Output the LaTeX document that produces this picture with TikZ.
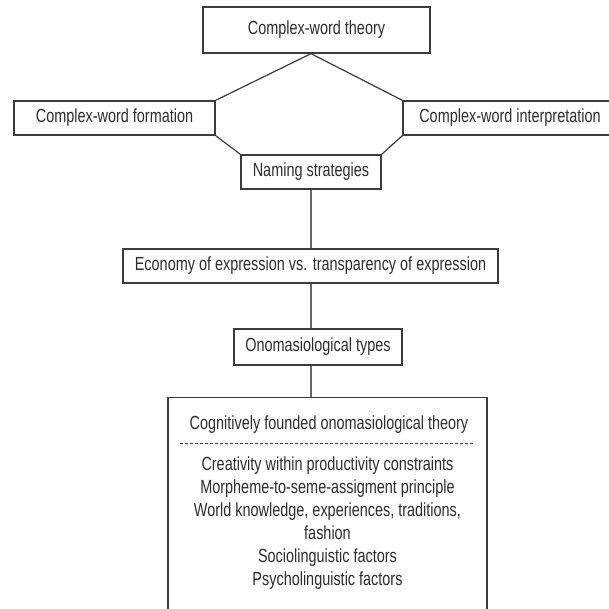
\documentclass[tikz,border=0pt]{standalone}
\usepackage{fontspec}
\setmainfont{Liberation Sans}[FakeStretch=0.76]
\usepackage{tikz}
\usetikzlibrary{positioning}
\definecolor{linegray}{RGB}{60,60,60}
\definecolor{textgray}{RGB}{45,45,45}

\tikzset{
  wordbox/.style={rectangle, draw=linegray, line width=1.3pt, fill=white, inner sep=0pt, text=textgray},
  link/.style={draw=linegray, line width=1.2pt},
}

\begin{document}
\begin{tikzpicture}[x=1pt, y=-1pt, font=\fontsize{19}{23}\selectfont]
\useasboundingbox (0,0) rectangle (608,609);
% Top level
\node[wordbox, minimum width=227, minimum height=46] (theory) at (316.5,30) {Complex-word theory};
\node[wordbox, minimum width=201, minimum height=34] (formation) at (114.5,118) {Complex-word formation};
\node[wordbox, minimum width=214, minimum height=34] (interp) at (510,118) {Complex-word interpretation};
\node[wordbox, minimum width=140, minimum height=34] (naming) at (311,172) {Naming strategies};

\draw[link] (formation.north east) -- (theory.south -| naming.south) -- (interp.north west);
\draw[link] (formation.south east) -- (naming.north west);
\draw[link] (interp.south west) -- (naming.north east);

% Middle chain
\node[wordbox, minimum width=375, minimum height=34] (economy) at (310.5,266) {Economy of expression vs. transparency of expression};
\node[wordbox, minimum width=168, minimum height=36] (types) at (318,347) {Onomasiological types};

\draw[link, draw=black!60] (naming.south) -- (naming.south |- economy.north);
\draw[link, draw=black!60] (economy.south -| naming.south) -- (naming.south |- types.north);

% Bottom box
\node[wordbox, minimum width=319, minimum height=232, anchor=north] (cog) at (327.5,397) {};
\draw[link, draw=black!60] (naming.south |- types.south) -- (naming.south |- cog.north);

\node[text=textgray] (cogtitle) at (329,425) {Cognitively founded onomasiological theory};
\draw[linegray, line width=0.9pt, dash pattern=on 3pt off 2pt] (180,443) -- (475,443);
\node[text=textgray, align=center, inner sep=0pt, anchor=north] (coglist) at (327.5,457)
  {Creativity within productivity constraints\\
   Morpheme-to-seme-assigment principle\\
   World knowledge, experiences, traditions,\\
   fashion\\
   Sociolinguistic factors\\
   Psycholinguistic factors};
\end{tikzpicture}
\end{document}
